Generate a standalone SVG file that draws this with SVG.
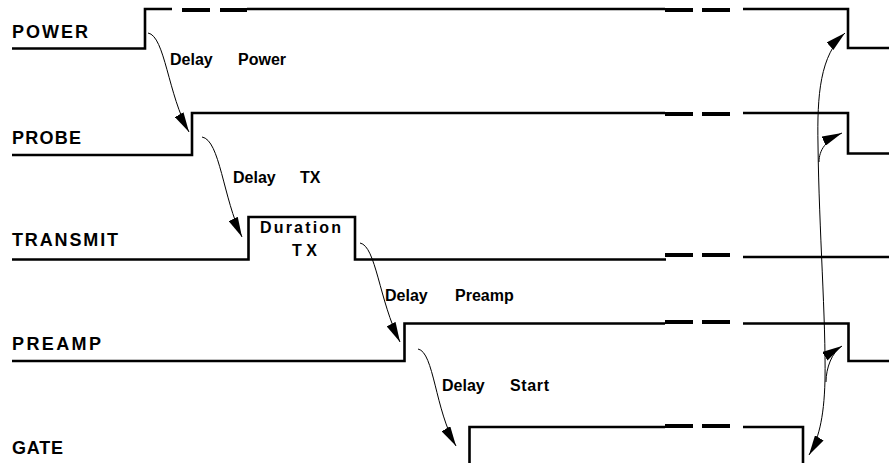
<svg xmlns="http://www.w3.org/2000/svg" width="889" height="463" viewBox="0 0 889 463">
  <style>
    .sig { fill: none; stroke: #000; stroke-width: 2.6; stroke-linejoin: miter; stroke-linecap: butt; }
    .dsh { stroke: #000; stroke-width: 4; }
    .arr { fill: none; stroke: #000; stroke-width: 1; }
    .lbl { font-family: "Liberation Sans", Arial, sans-serif; font-weight: bold; font-size: 18px; fill: #000; }
    .note { font-family: "Liberation Sans", Arial, sans-serif; font-weight: bold; font-size: 16px; fill: #000; }
  </style>
  <defs>
    <marker id="ah" markerUnits="userSpaceOnUse" markerWidth="20" markerHeight="10" refX="20" refY="5" orient="auto-start-reverse" viewBox="0 0 20 10">
      <path d="M0,0 L20,5 L0,10 Z" fill="#000"/>
    </marker>
  </defs>
  <rect width="889" height="463" fill="#fff"/>

  <g id="power">
    <text class="lbl" x="12" y="38" textLength="76" lengthAdjust="spacing">POWER</text>
    <polyline class="sig" points="12,48.5 145,48.5 145,9 172,9"/>
    <line class="dsh" x1="182" y1="10" x2="210" y2="10"/>
    <line class="dsh" x1="220" y1="10" x2="247" y2="10"/>
    <line class="sig" x1="247" y1="9" x2="665" y2="9"/>
    <line class="dsh" x1="665" y1="10" x2="693" y2="10"/>
    <line class="dsh" x1="702" y1="10" x2="730" y2="10"/>
    <polyline class="sig" points="743,9 848,9 848,48 889,48"/>
  </g>

  <g id="probe">
    <text class="lbl" x="12" y="144" textLength="69" lengthAdjust="spacing">PROBE</text>
    <polyline class="sig" points="12,155 192,155 192,113 665,113"/>
    <line class="dsh" x1="665" y1="114" x2="693" y2="114"/>
    <line class="dsh" x1="702" y1="114" x2="730" y2="114"/>
    <polyline class="sig" points="743,113 848,113 848,153.5 889,153.5"/>
  </g>

  <g id="transmit">
    <text class="lbl" x="12" y="246" textLength="106" lengthAdjust="spacing">TRANSMIT</text>
    <polyline class="sig" points="12,259.5 248.5,259.5 248.5,217 355,217 355,259.5 666,259.5"/>
    <line class="dsh" x1="665" y1="255" x2="693" y2="255"/>
    <line class="dsh" x1="702" y1="255" x2="730" y2="255"/>
    <line class="sig" x1="743" y1="257" x2="889" y2="257"/>
    <text class="note" x="260" y="233" textLength="81" lengthAdjust="spacing">Duration</text>
    <text class="note" x="292" y="256" textLength="25" lengthAdjust="spacing">TX</text>
  </g>

  <g id="preamp">
    <text class="lbl" x="12" y="350" textLength="89" lengthAdjust="spacing">PREAMP</text>
    <polyline class="sig" points="12,361 404.5,361 404.5,323.5 665,323.5"/>
    <line class="dsh" x1="665" y1="322" x2="693" y2="322"/>
    <line class="dsh" x1="702" y1="322" x2="730" y2="322"/>
    <polyline class="sig" points="743,323.5 848.5,323.5 848.5,361 889,361"/>
  </g>

  <g id="gate">
    <text class="lbl" x="12" y="454" textLength="51" lengthAdjust="spacing">GATE</text>
    <polyline class="sig" points="469.5,465 469.5,427 665,427"/>
    <line class="dsh" x1="665" y1="426" x2="693" y2="426"/>
    <line class="dsh" x1="702" y1="426" x2="730" y2="426"/>
    <polyline class="sig" points="743,427 803,427 803,465"/>
  </g>

  <g id="labels">
    <text class="note" x="170" y="65">Delay</text>
    <text class="note" x="238" y="65">Power</text>
    <text class="note" x="233" y="183">Delay</text>
    <text class="note" x="300" y="183">TX</text>
    <text class="note" x="385" y="301">Delay</text>
    <text class="note" x="455" y="301">Preamp</text>
    <text class="note" x="442" y="391">Delay</text>
    <text class="note" x="510" y="391" textLength="39" lengthAdjust="spacing">Start</text>
  </g>

  <g id="connectors">
    <path class="arr" d="M148,33 C165,36 168,95 189,132" marker-end="url(#ah)"/>
    <path class="arr" d="M202,137 C220,140 223,198 242,237" marker-end="url(#ah)"/>
    <path class="arr" d="M360,243 C376,246 379,300 400,342" marker-end="url(#ah)"/>
    <path class="arr" d="M418,349 C434,352 435,410 456,446" marker-end="url(#ah)"/>
    <path class="arr" d="M845,33 C820,55 817,95 818,145 C819,230 826,320 825,380 C824,420 818,440 809,455" marker-start="url(#ah)" marker-end="url(#ah)"/>
    <path class="arr" d="M819,162 C819,150 826,140 842,133" marker-end="url(#ah)"/>
    <path class="arr" d="M826,382 C826,368 832,352 842,346" marker-end="url(#ah)"/>
  </g>
</svg>
